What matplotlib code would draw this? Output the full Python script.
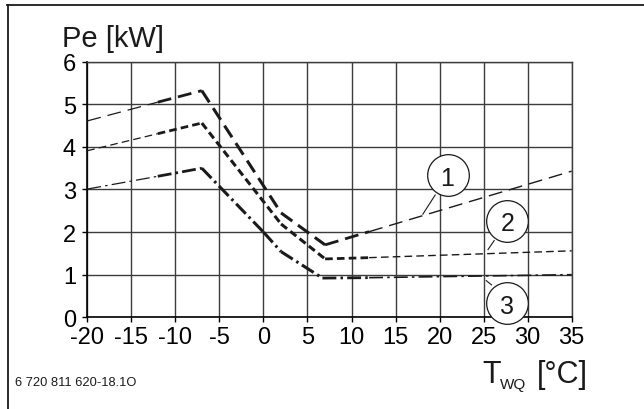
import matplotlib
matplotlib.use('Agg')
import matplotlib.pyplot as plt
from matplotlib.lines import Line2D
import numpy as np

plt.rcParams['font.family'] = ['Liberation Sans', 'DejaVu Sans']
plt.rcParams['lines.scale_dashes'] = False

# source temperature T_WQ [°C] vs. electrical power Pe [kW]
t_1 = [-20, -12, -7, 2, 7, 12, 35]
pe_1 = [4.61, 5.05, 5.32, 2.45, 1.70, 2.01, 3.43]

t_2 = [-20, -12, -7, 2, 7, 12, 35]
pe_2 = [3.91, 4.31, 4.56, 2.19, 1.37, 1.40, 1.56]

t_3 = [-20, -12, -7, 0, 2, 6.7, 12, 35]
pe_3 = [3.01, 3.31, 3.50, 2.00, 1.54, 0.92, 0.93, 1.00]

x_ticks = [-20, -15, -10, -5, 0, 5, 10, 15, 20, 25, 30, 35]
y_ticks = [0, 1, 2, 3, 4, 5, 6]

# callout circles: label, centre, leader line (from, to)
callouts = [
    ('1', (20.9, 3.34), (19.5, 2.87), (18.1, 2.42)),
    ('2', (27.7, 2.27), (26.2, 1.80), (25.5, 1.59)),
    ('3', (27.7, 0.33), (25.3, 0.86), (25.9, 0.76)),
]

fig = plt.figure(figsize=(6.44, 4.10), dpi=100)
ax = fig.add_axes([0.1356, 0.2237, 0.7521, 0.6234])

ax.set_xlim(-20, 35)
ax.set_ylim(0, 6)
ax.set_xticks(x_ticks)
ax.set_yticks(y_ticks)
ax.set_xticklabels([str(v) for v in x_ticks])
ax.grid(True, color='#3c3c3c', lw=1.0)
ax.set_axisbelow(True)
for side in ['top', 'right']:
    ax.spines[side].set_color('#3c3c3c')
    ax.spines[side].set_linewidth(1.0)
for side in ['left', 'bottom']:
    ax.spines[side].set_color('black')
    ax.spines[side].set_linewidth(1.2)
ax.tick_params(axis='x', direction='out', length=3.5, width=1, pad=3, labelsize=17)
ax.tick_params(axis='y', direction='out', length=3.6, width=1, pad=4.5, labelsize=17)


def draw_curve(xs, ys, dashes, widths):
    for i in range(len(xs) - 1):
        ax.plot(xs[i:i + 2], ys[i:i + 2], color='#1a1a1a', lw=widths[i],
                dashes=dashes, dash_capstyle='butt', solid_capstyle='butt', zorder=3)


draw_curve(t_1, pe_1, (10, 5), [0.9, 2.0, 2.2, 2.2, 2.0, 1.0])
draw_curve(t_2, pe_2, (5.5, 3), [0.9, 2.0, 2.2, 2.2, 2.0, 1.0])
draw_curve(t_3, pe_3, (10, 3, 1.8, 3), [0.9, 2.0, 2.2, 2.2, 2.2, 2.0, 1.2])

for lab, c, p0, p1 in callouts:
    ax.plot([p0[0], p1[0]], [p0[1], p1[1]], color='#1a1a1a', lw=0.8, zorder=4)
    ax.plot(c[0], c[1], marker='o', ms=30, mfc='white', mec='#1a1a1a', mew=0.9,
            zorder=5, clip_on=False)
    ax.text(c[0], c[1], lab, ha='center', va='center_baseline', fontsize=18,
            color='#1a1a1a', zorder=6, clip_on=False)

# axis titles
fig.text(62 / 644, 1 - 47 / 410, 'Pe [kW]', fontsize=21, ha='left', va='baseline', color='#1a1a1a')
fig.text(482 / 644, 1 - 383 / 410, 'T', fontsize=22, ha='left', va='baseline', color='#1a1a1a')
fig.text(500 / 644, 1 - 389 / 410, 'WQ', fontsize=11, ha='left', va='baseline', color='#1a1a1a')
fig.text(537 / 644, 1 - 383 / 410, '[°C]', fontsize=22, ha='left', va='baseline', color='#1a1a1a')
fig.text(15 / 644, 1 - 386 / 410, '6 720 811 620-18.1O', fontsize=9.3, ha='left', va='baseline',
         color='#1a1a1a')

# page frame
fig.add_artist(Line2D([7 / 644, 1.0], [1 - 6 / 410, 1 - 6 / 410], transform=fig.transFigure,
                      color='#1a1a1a', lw=1.3))
fig.add_artist(Line2D([7.5 / 644, 7.5 / 644], [0.0, 1 - 6 / 410], transform=fig.transFigure,
                      color='#1a1a1a', lw=1.3))

fig.savefig('out.png', dpi=100, facecolor='white')
